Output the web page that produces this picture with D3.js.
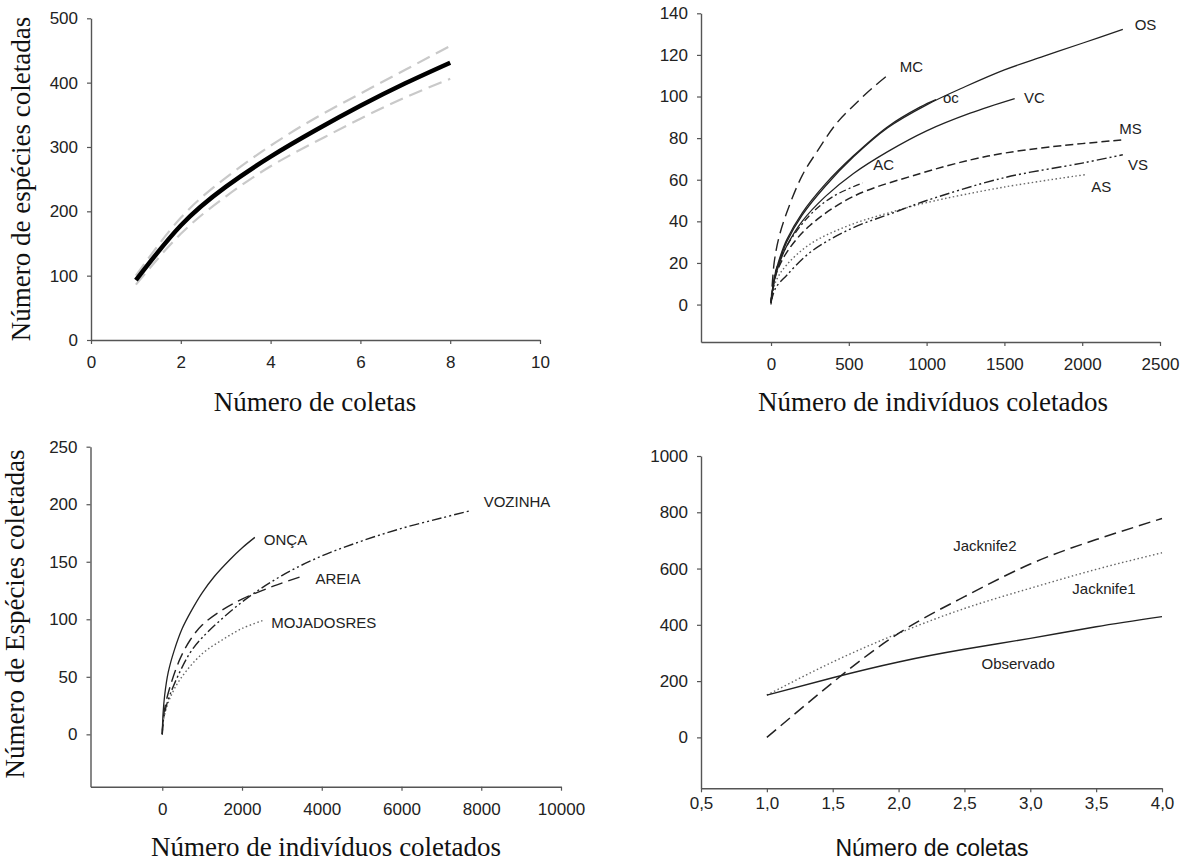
<!DOCTYPE html>
<html><head><meta charset="utf-8">
<script src="https://cdn.jsdelivr.net/npm/d3@7"></script>
<style>body{margin:0;background:#fff}</style>
</head><body>
<svg id="c" width="1183" height="864"></svg>
<script>
// ---------- Panel A: species accumulation vs coletas ----------
const aX = [1, 2, 3, 4, 5, 6, 7, 8];
const aMean = [93, 178, 238, 285, 326, 364, 399, 431];
const aUpper = [100, 190, 252, 302, 345, 383, 420, 457];
const aLower = [86, 165, 223, 270, 308, 344, 377, 406];
const aXTicks = [0, 2, 4, 6, 8, 10];
const aYTicks = [0, 100, 200, 300, 400, 500];

// ---------- Panel B: rarefaction by site (individuals) ----------
const bOS_x = [0, 20, 50, 100, 200, 350, 530, 750, 1000, 1250, 1500, 1750, 2000, 2261];
const bOS_y = [1, 12, 20, 30, 43, 57, 71, 85, 96, 104.8, 112.8, 119.3, 125.6, 132.3];
const bOC_x = [0, 20, 50, 100, 200, 350, 530, 750, 960, 1060];
const bOC_y = [1, 12.5, 21, 31, 44, 58, 71.5, 85.5, 95, 98.5];
const bVC_x = [0, 20, 50, 100, 200, 350, 530, 750, 1000, 1280, 1566];
const bVC_y = [1, 11, 19, 28, 40, 52, 63, 73.5, 83.5, 92, 99];
const bMC_x = [0, 20, 50, 100, 200, 300, 420, 550, 650, 761];
const bMC_y = [0, 20, 32, 44, 62, 74, 87, 97, 104, 110.9];
const bMS_x = [0, 30, 100, 250, 530, 960, 1280, 1500, 1800, 2261];
const bMS_y = [1, 14, 25, 38, 52, 63, 69.5, 72.8, 75.8, 79.2];
const bAC_x = [0, 30, 100, 250, 400, 590];
const bAC_y = [1, 16, 28, 43, 52, 58.5];
const bVS_x = [0, 30, 100, 250, 500, 800, 1000, 1500, 2000, 2261];
const bVS_y = [1, 8, 14, 25, 36, 44.5, 50, 61, 68, 72];
const bAS_x = [0, 30, 100, 250, 500, 800, 1000, 1500, 2017];
const bAS_y = [1, 11, 19, 29, 38, 45, 49, 56.5, 62.4];
const bXTicks = [0, 500, 1000, 1500, 2000, 2500];
const bYTicks = [0, 20, 40, 60, 80, 100, 120, 140];
const bLabels = ["OS", "MC", "oc", "VC", "MS", "AC", "VS", "AS"];
const bLabelX = [2407, 902, 1156, 1693, 2310, 724, 2359, 2122];
const bLabelY = [134.4, 114.4, 99.2, 99.2, 84.3, 67.2, 67.2, 56.8];

// ---------- Panel C: rarefaction by locality ----------
const cONCA_x = [0, 20, 60, 150, 300, 500, 739, 1000, 1300, 1700, 2000, 2322];
const cONCA_y = [0, 18, 34, 54, 73, 92, 108, 123, 137, 152, 162, 171.2];
const cVOZ_x = [0, 20, 80, 200, 450, 700, 1000, 2000, 3000, 4000, 5000, 6000, 7000, 7726];
const cVOZ_y = [0, 10, 22, 35, 55, 71, 84, 115, 138, 155, 168, 179, 188, 194.4];
const cARE_x = [0, 20, 80, 200, 450, 700, 1000, 1500, 2000, 2800, 3522];
const cARE_y = [0, 12, 26, 42, 66, 82, 95, 108, 117.5, 129, 137.6];
const cMOJ_x = [0, 20, 80, 200, 450, 1000, 1500, 2000, 2562];
const cMOJ_y = [0, 10, 20, 32, 48, 70, 82, 92, 99.4];
const cXTicks = [0, 2000, 4000, 6000, 8000, 10000];
const cYTicks = [0, 50, 100, 150, 200, 250];
const cLabels = ["ONÇA", "VOZINHA", "AREIA", "MOJADOSRES"];
const cLabelX = [3090, 8896, 4405, 4050];
const cLabelY = [169.5, 202.2, 135, 97];

// ---------- Panel D: estimators ----------
const dX = [1, 1.5, 2, 2.5, 3, 3.5, 4];
const dObs = [150, 212, 268, 313, 352, 393, 429];
const dJack1 = [150, 268, 370, 458, 530, 597, 656];
const dJack2 = [0, 195, 370, 500, 616, 703, 778];
const dXTicks = [0.5, 1.0, 1.5, 2.0, 2.5, 3.0, 3.5, 4.0];
const dYTicks = [0, 200, 400, 600, 800, 1000];
const dLabels = ["Jacknife2", "Jacknife1", "Observado"];
const dLabelX = [2.655, 3.56, 2.908];
const dLabelY = [680, 529.6, 263];

const svg = d3.select("#c");
const SANS = "'Liberation Sans', Arial, sans-serif";
const SERIF = "'Liberation Serif', 'Times New Roman', serif";
const AXC = "#555";

function drawAxes(g, x, y, xt, yt, xfmt, yfmt, xpad) {
  const ax = g.append("g").attr("transform", `translate(0,${y.range()[0]})`)
    .call(d3.axisBottom(x).tickValues(xt).tickFormat(xfmt).tickSize(4).tickSizeOuter(0).tickPadding(xpad));
  const ay = g.append("g").attr("transform", `translate(${x.range()[0]},0)`)
    .call(d3.axisLeft(y).tickValues(yt).tickFormat(yfmt).tickSize(4).tickSizeOuter(0).tickPadding(9));
  [ax, ay].forEach(a => {
    a.select(".domain").attr("stroke", AXC).attr("stroke-width", 1.4);
    a.selectAll(".tick line").attr("stroke", AXC).attr("stroke-width", 1.2);
    a.selectAll("text").attr("font-family", SANS).attr("font-size", 17).attr("fill", "#222");
  });
}
function path(g, xs, ys, x, y, stroke, w, dash, curve) {
  const pts = xs.map((v, i) => [v, ys[i]]);
  const line = d3.line().x(d => x(d[0])).y(d => y(d[1])).curve(curve || d3.curveCatmullRom.alpha(0.5));
  g.append("path").attr("d", line(pts)).attr("fill", "none")
    .attr("stroke", stroke).attr("stroke-width", w)
    .attr("stroke-dasharray", dash || null).attr("stroke-linecap", "butt");
}
function label(g, txt, x, y, size) {
  g.append("text").attr("x", x).attr("y", y).attr("dy", "0.35em")
    .attr("text-anchor", "middle").attr("font-family", SANS)
    .attr("font-size", size).attr("fill", "#222").text(txt);
}
function title(g, txt, x, y, font, size, rot) {
  const t = g.append("text").attr("text-anchor", "middle")
    .attr("font-family", font).attr("font-size", size).attr("fill", "#111").text(txt);
  if (rot) t.attr("transform", `translate(${x},${y}) rotate(-90)`).attr("dy", "0.35em");
  else t.attr("x", x).attr("y", y);
}

// Panel A
{
  const g = svg.append("g");
  const x = d3.scaleLinear().domain([0, 10]).range([91, 540]);
  const y = d3.scaleLinear().domain([0, 500]).range([340, 18.3]);
  drawAxes(g, x, y, aXTicks, aYTicks, d3.format("d"), d3.format("d"), 12);
  path(g, aX, aUpper, x, y, "#c9c9c9", 2.2, "14,7", d3.curveNatural);
  path(g, aX, aLower, x, y, "#c9c9c9", 2.2, "14,7", d3.curveNatural);
  path(g, aX, aMean, x, y, "#000", 4.5, null, d3.curveNatural);
  title(g, "Número de espécies coletadas", 21, 179, SERIF, 27, true);
  title(g, "Número de coletas", 315, 411, SERIF, 27);
}
// Panel B
{
  const g = svg.append("g");
  const x = d3.scaleLinear().domain([-450, 2500]).range([701, 1160]);
  const y = d3.scaleLinear().domain([-18, 140]).range([342, 13.3]);
  drawAxes(g, x, y, bXTicks, bYTicks, d3.format("d"), d3.format("d"), 12);
  const k = "#222";
  path(g, bAS_x, bAS_y, x, y, "#666", 1.4, "1.5,2.5");
  path(g, bVS_x, bVS_y, x, y, k, 1.4, "10,3,2,3,2,3");
  path(g, bMS_x, bMS_y, x, y, k, 1.5, "8,4");
  path(g, bAC_x, bAC_y, x, y, k, 1.3, "7,3,2,3");
  path(g, bVC_x, bVC_y, x, y, k, 1.3);
  path(g, bOC_x, bOC_y, x, y, k, 1.3);
  path(g, bOS_x, bOS_y, x, y, k, 1.3);
  path(g, bMC_x, bMC_y, x, y, k, 1.4, "12,6");
  bLabels.forEach((t, i) => label(g, t, x(bLabelX[i]), y(bLabelY[i]), 15));
  title(g, "Número de indivíduos coletados", 933, 411, SERIF, 27);
}
// Panel C
{
  const g = svg.append("g");
  const x = d3.scaleLinear().domain([-1800, 10000]).range([90.5, 561]);
  const y = d3.scaleLinear().domain([-45.5, 250]).range([786.7, 446.7]);
  drawAxes(g, x, y, cXTicks, cYTicks, d3.format("d"), d3.format("d"), 12);
  const k = "#222";
  path(g, cMOJ_x, cMOJ_y, x, y, "#666", 1.4, "1.5,2.5");
  path(g, cVOZ_x, cVOZ_y, x, y, k, 1.4, "10,3,2,3,2,3");
  path(g, cARE_x, cARE_y, x, y, k, 1.4, "12,6");
  path(g, cONCA_x, cONCA_y, x, y, k, 1.3);
  cLabels.forEach((t, i) => label(g, t, x(cLabelX[i]), y(cLabelY[i]), 15));
  title(g, "Número de Espécies coletadas", 15, 614, SERIF, 27, true);
  title(g, "Número de indivíduos coletados", 326, 856, SERIF, 27);
}
// Panel D
{
  const g = svg.append("g");
  const x = d3.scaleLinear().domain([0.5, 4]).range([701, 1162]);
  const y = d3.scaleLinear().domain([-181, 1000]).range([788.3, 456]);
  drawAxes(g, x, y, dXTicks, dYTicks, d => d.toFixed(1).replace(".", ","), d3.format("d"), 5);
  const k = "#222";
  path(g, dX, dJack1, x, y, "#666", 1.4, "1.5,2.5", d3.curveNatural);
  path(g, dX, dJack2, x, y, k, 1.5, "12,6", d3.curveNatural);
  path(g, dX, dObs, x, y, k, 1.4, null, d3.curveNatural);
  dLabels.forEach((t, i) => label(g, t, x(dLabelX[i]), y(dLabelY[i]), 15));
  title(g, "Número de coletas", 932, 856, SANS, 23);
}
</script>
</body></html>
